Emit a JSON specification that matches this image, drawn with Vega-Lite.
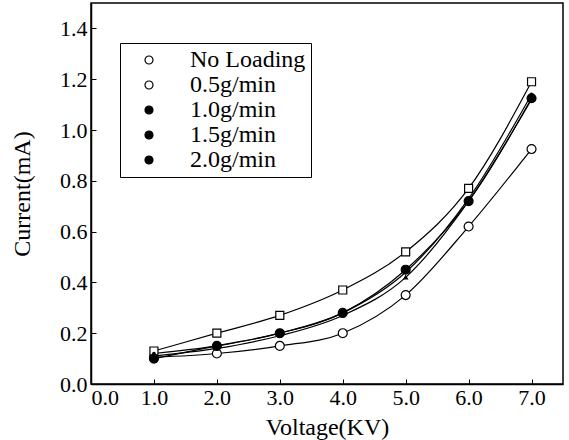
{
  "$schema": "https://vega.github.io/schema/vega-lite/v6.json",
  "width": 472,
  "height": 381,
  "autosize": {"type": "none"},
  "padding": {"left": 91, "top": 3, "right": 6, "bottom": 56},
  "config": {
    "font": "Liberation Serif",
    "view": {"stroke": "black", "strokeWidth": 1.5},
    "axis": {
      "grid": false,
      "domainColor": "black",
      "domainWidth": 1.5,
      "tickColor": "black",
      "tickSize": -5,
      "tickWidth": 1,
      "labelColor": "black",
      "titleColor": "black",
      "labelFont": "Liberation Serif",
      "titleFont": "Liberation Serif",
      "labelFontSize": 22,
      "titleFontSize": 24,
      "titleFontWeight": "normal"
    }
  },
  "data": {
    "values": [
      {"series": "No Loading", "voltage": 1, "current": 0.105},
      {"series": "No Loading", "voltage": 2, "current": 0.12},
      {"series": "No Loading", "voltage": 3, "current": 0.15},
      {"series": "No Loading", "voltage": 4, "current": 0.2},
      {"series": "No Loading", "voltage": 5, "current": 0.35},
      {"series": "No Loading", "voltage": 6, "current": 0.62},
      {"series": "No Loading", "voltage": 7, "current": 0.925},
      {"series": "0.5g/min", "voltage": 1, "current": 0.13},
      {"series": "0.5g/min", "voltage": 2, "current": 0.2},
      {"series": "0.5g/min", "voltage": 3, "current": 0.27},
      {"series": "0.5g/min", "voltage": 4, "current": 0.37},
      {"series": "0.5g/min", "voltage": 5, "current": 0.52},
      {"series": "0.5g/min", "voltage": 6, "current": 0.77},
      {"series": "0.5g/min", "voltage": 7, "current": 1.19},
      {"series": "1.0g/min", "voltage": 1, "current": 0.11},
      {"series": "1.0g/min", "voltage": 2, "current": 0.14},
      {"series": "1.0g/min", "voltage": 3, "current": 0.19},
      {"series": "1.0g/min", "voltage": 4, "current": 0.27},
      {"series": "1.0g/min", "voltage": 5, "current": 0.42},
      {"series": "1.0g/min", "voltage": 6, "current": 0.72},
      {"series": "1.0g/min", "voltage": 7, "current": 1.12},
      {"series": "1.5g/min", "voltage": 1, "current": 0.1},
      {"series": "1.5g/min", "voltage": 2, "current": 0.15},
      {"series": "1.5g/min", "voltage": 3, "current": 0.2},
      {"series": "1.5g/min", "voltage": 4, "current": 0.28},
      {"series": "1.5g/min", "voltage": 5, "current": 0.45},
      {"series": "1.5g/min", "voltage": 6, "current": 0.72},
      {"series": "1.5g/min", "voltage": 7, "current": 1.125},
      {"series": "2.0g/min", "voltage": 1, "current": 0.12},
      {"series": "2.0g/min", "voltage": 2, "current": 0.15},
      {"series": "2.0g/min", "voltage": 3, "current": 0.2},
      {"series": "2.0g/min", "voltage": 4, "current": 0.28},
      {"series": "2.0g/min", "voltage": 5, "current": 0.44},
      {"series": "2.0g/min", "voltage": 6, "current": 0.73},
      {"series": "2.0g/min", "voltage": 7, "current": 1.14}
    ]
  },
  "layer": [
    {
      "mark": {"type": "line", "interpolate": "monotone", "color": "black", "strokeWidth": 1.2},
      "encoding": {
        "x": {
          "field": "voltage", "type": "quantitative",
          "scale": {"domain": [0, 7.5], "nice": false, "zero": false},
          "axis": {"values": [0, 1, 2, 3, 4, 5, 6, 7], "format": ".1f", "title": "Voltage(KV)", "labelPadding": 8, "titlePadding": 7}
        },
        "y": {
          "field": "current", "type": "quantitative",
          "scale": {"domain": [0, 1.5], "nice": false, "zero": false},
          "axis": {"values": [0, 0.2, 0.4, 0.6, 0.8, 1.0, 1.2, 1.4], "format": ".1f", "title": "Current(mA)", "labelPadding": 9, "titlePadding": 25}
        },
        "detail": {"field": "series", "type": "nominal"}
      }
    },
    {
      "mark": {"type": "point", "filled": true, "stroke": "black", "strokeWidth": 1.2, "opacity": 1},
      "encoding": {
        "x": {"field": "voltage", "type": "quantitative"},
        "y": {"field": "current", "type": "quantitative"},
        "fill": {
          "field": "series", "type": "nominal",
          "scale": {
            "type": "ordinal",
            "domain": ["No Loading", "0.5g/min", "1.0g/min", "1.5g/min", "2.0g/min"],
            "range": ["white", "white", "black", "black", "black"]
          },
          "legend": {
            "title": null,
            "orient": "none",
            "legendX": 29,
            "legendY": 40,
            "strokeColor": "black",
            "fillColor": "white",
            "padding": 5,
            "labelFont": "Liberation Serif",
            "labelFontSize": 24,
            "labelFontWeight": "normal",
            "labelColor": "black",
            "labelLimit": 300,
            "rowPadding": 1,
            "symbolSize": 64,
            "symbolStrokeWidth": 1.2,
            "symbolStrokeColor": "black",
            "symbolOffset": 12,
            "labelOffset": 29,
            "encode": {
              "symbols": {
                "stroke": {"value": "black"},
                "strokeWidth": {"value": 1.2},
                "opacity": {"value": 1}
              }
            }
          }
        },
        "shape": {
          "field": "series", "type": "nominal",
          "scale": {
            "domain": ["0.5g/min", "1.0g/min", "1.5g/min", "2.0g/min", "No Loading"],
            "range": ["square", "triangle-up", "circle", "circle", "circle"]
          },
          "legend": null
        },
        "size": {
          "field": "series", "type": "nominal",
          "scale": {
            "type": "ordinal",
            "domain": ["0.5g/min", "1.0g/min", "1.5g/min", "2.0g/min", "No Loading"],
            "range": [64, 12, 80, 6, 80]
          },
          "legend": null
        }
      }
    }
  ]
}
